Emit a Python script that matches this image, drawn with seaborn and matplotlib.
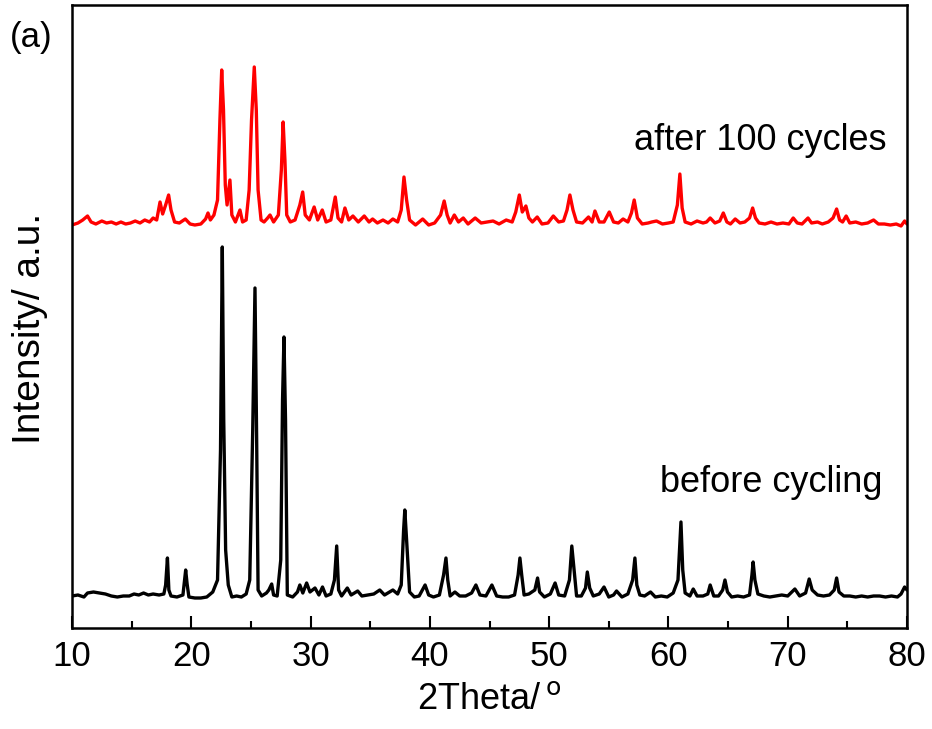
import numpy as np
import pandas as pd
import matplotlib
matplotlib.use("Agg")
import matplotlib.pyplot as plt
import seaborn as sns
from matplotlib.ticker import MultipleLocator

# ---------------- data ----------------
two_theta_before = [10.0, 10.5, 11.0, 11.3, 11.8, 12.3, 12.8, 13.3, 13.8, 14.3, 14.8, 15.2, 15.6, 16.0, 16.4, 16.8,
    17.3, 17.7, 17.85, 18.0, 18.12, 18.3, 18.8, 19.3, 19.42, 19.53, 19.65, 19.8, 20.3, 20.8, 21.3, 21.8,
    22.2, 22.45, 22.6, 22.72, 22.88, 23.1, 23.4, 23.8, 24.2, 24.6, 24.9, 25.15, 25.34, 25.48, 25.6, 25.9,
    26.3, 26.5, 26.74, 26.9, 27.2, 27.5, 27.65, 27.77, 27.9, 28.05, 28.5, 28.9, 29.1, 29.35, 29.67, 29.95,
    30.37, 30.7, 31.0, 31.3, 31.7, 32.0, 32.19, 32.35, 32.6, 33.08, 33.4, 33.95, 34.3, 34.8, 35.3, 35.8,
    36.2, 36.9, 37.3, 37.6, 37.8, 37.9, 38.05, 38.3, 38.7, 39.1, 39.6, 39.9, 40.3, 40.8, 41.15, 41.35,
    41.5, 41.7, 42.1, 42.5, 43.0, 43.5, 43.86, 44.2, 44.7, 45.2, 45.6, 46.1, 46.6, 47.1, 47.4, 47.55,
    47.7, 47.9, 48.3, 48.8, 49.03, 49.2, 49.6, 50.1, 50.5, 50.8, 51.3, 51.7, 51.9, 52.05, 52.3, 52.7,
    53.05, 53.2, 53.4, 53.7, 54.2, 54.6, 55.0, 55.4, 55.65, 56.1, 56.6, 57.0, 57.19, 57.35, 57.6, 58.0,
    58.5, 58.9, 59.4, 59.9, 60.4, 60.8, 61.05, 61.2, 61.4, 61.8, 62.08, 62.4, 62.9, 63.3, 63.5, 63.8,
    64.2, 64.55, 64.74, 64.95, 65.3, 65.8, 66.3, 66.8, 67.0, 67.1, 67.25, 67.5, 68.0, 68.5, 69.0, 69.5,
    70.0, 70.6, 71.0, 71.5, 71.8, 72.05, 72.5, 73.0, 73.5, 73.9, 74.1, 74.3, 74.7, 75.2, 75.7, 76.2,
    76.7, 77.2, 77.7, 78.2, 78.7, 79.2, 79.5, 79.8, 80.0]
intensity_before = [4, 5, 3, 7, 8, 7, 6, 4, 3, 4, 4, 6, 5, 7, 5, 6,
    5, 6, 15, 42, 10, 4, 3, 5, 18, 30, 16, 3, 2, 2, 3, 8,
    20, 150, 353, 180, 50, 15, 3, 4, 3, 6, 20, 170, 312, 160, 10, 4,
    7, 10, 16, 5, 4, 40, 200, 263, 180, 5, 3, 8, 15, 7, 17, 8,
    12, 5, 13, 4, 6, 20, 54, 10, 4, 12, 5, 9, 4, 5, 6, 10,
    5, 10, 6, 15, 70, 90, 60, 8, 3, 4, 15, 5, 3, 5, 25, 42,
    20, 4, 8, 4, 4, 7, 15, 5, 4, 15, 4, 3, 3, 5, 25, 42,
    25, 5, 6, 10, 22, 8, 3, 6, 17, 5, 4, 20, 54, 35, 4, 4,
    12, 28, 12, 4, 6, 13, 3, 5, 9, 3, 6, 20, 42, 15, 5, 4,
    8, 3, 4, 3, 7, 20, 78, 30, 7, 4, 11, 4, 4, 6, 15, 4,
    4, 10, 20, 8, 3, 4, 3, 5, 25, 38, 20, 6, 4, 3, 4, 5,
    4, 11, 4, 7, 21, 10, 5, 4, 5, 10, 22, 8, 4, 4, 3, 4,
    3, 4, 4, 3, 4, 3, 6, 13, 10]

two_theta_after = [10.0, 10.5, 10.9, 11.3, 11.6, 12.0, 12.5, 12.9, 13.3, 13.7, 14.1, 14.5, 14.9, 15.3, 15.7, 16.1,
    16.5, 16.8, 17.1, 17.38, 17.6, 17.85, 18.1, 18.3, 18.6, 19.0, 19.5, 19.9, 20.3, 20.8, 21.2, 21.4,
    21.6, 21.9, 22.2, 22.4, 22.55, 22.7, 22.85, 23.0, 23.24, 23.4, 23.7, 24.08, 24.3, 24.6, 24.85, 25.05,
    25.28, 25.45, 25.6, 25.85, 26.1, 26.4, 26.6, 26.9, 27.3, 27.55, 27.7, 27.85, 28.0, 28.3, 28.7, 29.1,
    29.34, 29.55, 29.9, 30.3, 30.6, 30.98, 31.3, 31.7, 32.07, 32.3, 32.6, 32.88, 33.2, 33.55, 34.0, 34.5,
    34.9, 35.2, 35.6, 36.07, 36.5, 36.9, 37.3, 37.6, 37.83, 38.05, 38.3, 38.8, 39.4, 39.9, 40.4, 40.9,
    41.2, 41.45, 41.7, 42.05, 42.4, 42.8, 43.2, 43.8, 44.3, 44.8, 45.3, 45.8, 46.4, 46.9, 47.2, 47.5,
    47.75, 48.05, 48.3, 48.6, 49.0, 49.4, 49.9, 50.35, 50.8, 51.2, 51.5, 51.74, 52.0, 52.3, 52.8, 53.3,
    53.6, 53.84, 54.2, 54.6, 55.04, 55.4, 55.8, 56.2, 56.6, 56.9, 57.13, 57.4, 57.8, 58.3, 58.6, 59.0,
    59.5, 60.0, 60.4, 60.75, 60.96, 61.15, 61.4, 61.9, 62.4, 62.9, 63.2, 63.5, 63.9, 64.3, 64.6, 64.9,
    65.2, 65.6, 66.0, 66.4, 66.8, 67.06, 67.3, 67.6, 68.1, 68.6, 69.1, 69.6, 70.1, 70.46, 70.8, 71.2,
    71.7, 72.0, 72.5, 72.9, 73.4, 73.8, 74.1, 74.35, 74.6, 74.9, 75.2, 75.7, 76.2, 76.7, 77.2, 77.6,
    78.1, 78.6, 79.1, 79.5, 79.8, 80.0]
intensity_after = [4, 6, 9, 13, 7, 5, 8, 6, 7, 5, 7, 5, 6, 8, 6, 9,
    7, 11, 9, 27, 15, 24, 34, 19, 7, 6, 10, 5, 4, 5, 10, 16,
    9, 14, 29, 109, 159, 119, 44, 24, 49, 14, 7, 19, 7, 9, 39, 109,
    162, 119, 39, 9, 7, 11, 14, 7, 14, 59, 107, 69, 14, 7, 9, 24,
    37, 14, 9, 22, 9, 19, 7, 9, 32, 11, 7, 21, 9, 13, 7, 13,
    7, 10, 6, 9, 6, 10, 7, 19, 52, 29, 9, 4, 10, 4, 6, 14,
    28, 14, 6, 14, 7, 11, 5, 11, 6, 7, 8, 5, 9, 7, 17, 34,
    17, 23, 11, 7, 12, 5, 6, 13, 7, 8, 19, 34, 19, 7, 6, 12,
    7, 18, 7, 7, 17, 7, 6, 10, 7, 16, 29, 11, 5, 6, 7, 8,
    5, 6, 7, 24, 55, 21, 7, 5, 8, 6, 7, 11, 6, 8, 16, 7,
    5, 10, 6, 7, 11, 21, 11, 6, 5, 7, 5, 6, 5, 11, 6, 5,
    11, 6, 7, 5, 7, 11, 20, 9, 7, 13, 6, 7, 5, 6, 9, 5,
    5, 4, 5, 3, 8, 5]

labels = ["before cycling", "after 100 cycles"]
offsets = [28, 399]
x_ticks = [10, 20, 30, 40, 50, 60, 70, 80]

# ---------------- plotting ----------------
sns.set_style("ticks")
plt.rcParams["font.family"] = ["Liberation Sans", "DejaVu Sans"]
plt.rcParams["text.color"] = "black"
plt.rcParams["axes.labelcolor"] = "black"
plt.rcParams["xtick.color"] = "black"
plt.rcParams["ytick.color"] = "black"

df = pd.concat([
    pd.DataFrame({"2theta": two_theta_before,
                  "I": np.array(intensity_before) + offsets[0],
                  "sample": labels[0]}),
    pd.DataFrame({"2theta": two_theta_after,
                  "I": np.array(intensity_after) + offsets[1],
                  "sample": labels[1]}),
], ignore_index=True)

fig = plt.figure(figsize=(9.32, 7.29), dpi=100)
ax = fig.add_axes([72 / 932, 1 - 628 / 729, 835 / 932, 623 / 729])

sns.lineplot(data=df, x="2theta", y="I", hue="sample",
             palette={labels[0]: "black", labels[1]: "#ff0000"},
             sort=False, estimator=None, linewidth=2.4, legend=False, ax=ax)

ax.set_xlim(10, 80)
ax.set_ylim(0, 623)
ax.set_xticks(x_ticks)
ax.set_xticklabels([str(t) for t in x_ticks])
ax.xaxis.set_minor_locator(MultipleLocator(5))
ax.set_yticks([])
ax.tick_params(axis="x", which="major", direction="in", length=9, width=1.5,
               labelsize=25, pad=9, top=False, colors="black")
ax.tick_params(axis="x", which="minor", direction="in", length=5, width=1.5,
               top=False, colors="black")
for s in ax.spines.values():
    s.set_visible(True)
    s.set_linewidth(1.8)
    s.set_color("black")

ax.set_xlabel("2Theta/$\\,^{\\mathrm{o}}$", fontsize=26, labelpad=6, color="black")
ax.set_ylabel("")
fig.text(30 / 932, 1 - 328 / 729, "Intensity/ a.u.", rotation=90,
         ha="center", va="center", fontsize=28, color="black")

ax.text(78.3, 628 - 140, labels[1], ha="right", va="center", fontsize=26, color="black")
ax.text(77.9, 628 - 483, labels[0], ha="right", va="center", fontsize=26, color="black")
fig.text(10 / 932, 1 - 38 / 729, "(a)", ha="left", va="center", fontsize=25, color="black")

fig.savefig("out.png", dpi=100)
